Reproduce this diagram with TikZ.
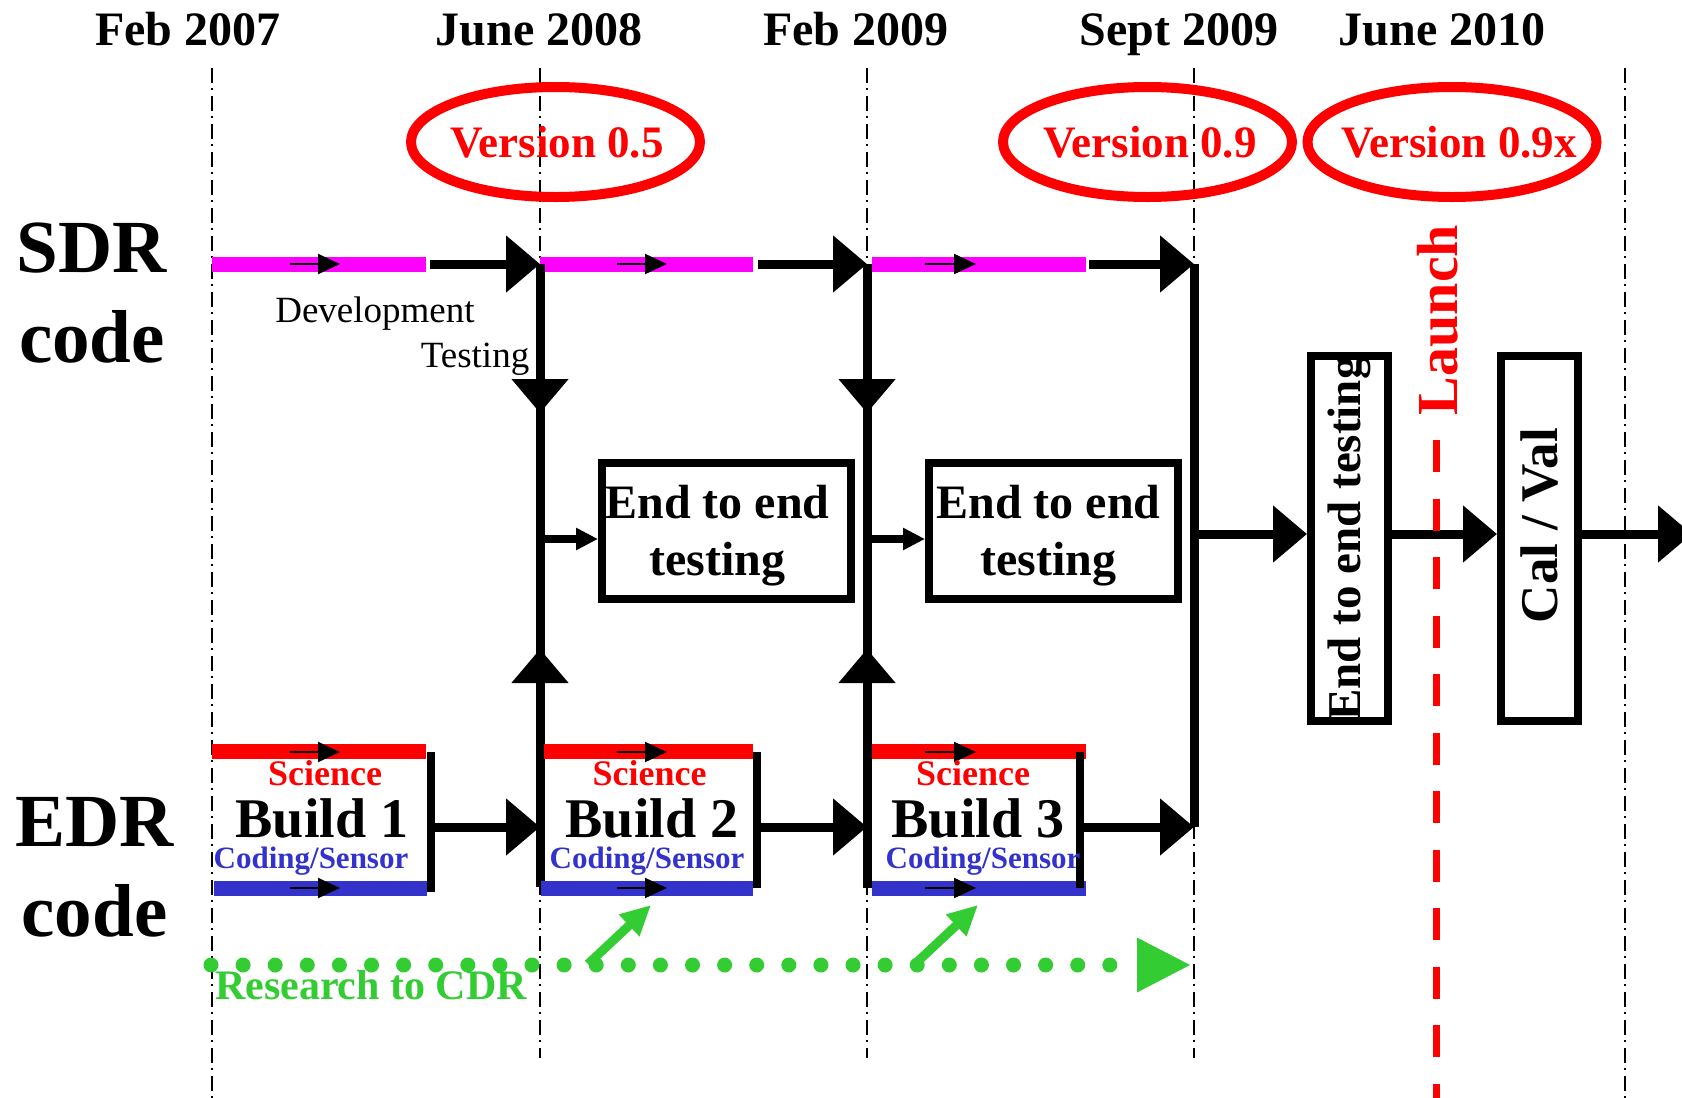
\documentclass[tikz,border=0pt]{standalone}
\usepackage{fontspec}
\setmainfont{Liberation Serif}
\usetikzlibrary{arrows.meta,shapes.geometric}
\definecolor{myred}{RGB}{255,0,0}
\definecolor{mymag}{RGB}{255,0,255}
\definecolor{myblue}{RGB}{51,51,204}
\definecolor{mygreen}{RGB}{51,204,51}
\newcommand\fsz[2]{\fontsize{#1pt}{#2pt}\selectfont}
\tikzset{
  gridline/.style={line width=2pt, dash pattern=on 15pt off 5pt on 2pt off 6pt},
  flow/.style={line width=9pt},
  bigtip/.style={-{Triangle[length=34pt,width=55pt]}},
  thin arrow/.style={line width=2pt, -{Triangle[length=22pt,width=20pt]}},
  med arrow/.style={line width=8pt, -{Triangle[length=22pt,width=21pt]}},
  magbar/.style={line width=15pt, mymag},
  redbar/.style={line width=15pt, myred},
  bluebar/.style={line width=15pt, myblue},
  bracket/.style={line width=8pt},
  date/.style={anchor=base, inner sep=0pt, font=\fsz{48}{58}\bfseries},
  ver/.style={draw=myred, line width=10pt, ellipse, minimum width=289pt, minimum height=110pt, inner sep=0pt, text=myred, font=\fsz{45}{54}\bfseries},
  side/.style={align=center, inner sep=0pt, font=\fsz{75}{90}\bfseries},
  small/.style={anchor=base, inner sep=0pt, font=\fsz{37}{44}},
  ebox/.style={draw, line width=8pt, minimum width=249pt, minimum height=136pt, inner sep=0pt, align=center, font=\fsz{48}{57}\bfseries},
  vbox/.style={draw, line width=8pt, rotate=90, minimum width=365pt, minimum height=77pt, inner sep=0pt},
  sci/.style={anchor=base, inner sep=0pt, text=myred, font=\fsz{36}{43}\bfseries},
  bld/.style={anchor=base, inner sep=0pt, font=\fsz{56}{67}\bfseries},
  cod/.style={anchor=base, inner sep=0pt, text=myblue, font=\fsz{31}{37}\bfseries},
  dots/.style={mygreen, line width=15pt, line cap=round, dash pattern=on 0pt off 32.1pt, -{Triangle[length=53pt,width=55pt,line width=0pt]}},
  garrow/.style={mygreen, line width=9pt, -{Triangle[length=30pt,width=28pt]}},
  launchline/.style={myred, line width=7pt, dash pattern=on 32pt off 26.5pt}
}
\begin{document}
\begin{tikzpicture}[x=1pt,y=-1pt]
\useasboundingbox (0,0) rectangle (1682,1098);
\clip (0,0) rectangle (1682,1098);
\fill[white] (0,0) rectangle (1682,1098);

% time grid
\foreach \x/\e in {212/1098, 540/1058, 867/1058, 1194/1058, 1625/1098}
  \draw[gridline] (\x,68) -- (\x,\e);

% dates
\node[date] (d1) at (188,45) {Feb 2007};
\node[date] (d2) at (539,45) {June 2008};
\node[date] (d3) at (856,45) {Feb 2009};
\node[date] (d4) at (1179,45) {Sept 2009};
\node[date] (d5) at (1442,45) {June 2010};

% versions
\node[ver] (v05) at (555.5,142) {\makebox[0pt]{\hspace*{3pt}Version 0.5}};
\node[ver] (v09) at (1147.5,142) {\makebox[0pt]{\hspace*{5pt}Version 0.9}};
\node[ver] (v09x) at (1452,142) {\makebox[0pt]{\hspace*{14pt}Version 0.9x}};

% row labels
\node[side] (sdr) at (92,293.5) {SDR\\code};
\node[side] (edr) at (94.5,867.5) {EDR\\code};

% junction coordinates
\coordinate (s1) at (540,264);
\coordinate (s2) at (867,264);
\coordinate (s3) at (1194,264);
\coordinate (b1) at (540,887);
\coordinate (b2) at (867,888);
\coordinate (e3) at (1194,827);
\coordinate (dn1) at (540,413);
\coordinate (dn2) at (867,413);
\coordinate (up1) at (540,649);
\coordinate (up2) at (867,649);

% SDR development bars
\draw[magbar] (212,264) -- (426,264);
\draw[magbar] (540,264) -- (753,264);
\draw[magbar] (872,264) -- (1086,264);
\draw[thin arrow] (290,264) -- (340,264);
\draw[thin arrow] (617,264) -- (667,264);
\draw[thin arrow] (925,264) -- (976,264);
\draw[flow,bigtip] (430,264) -- (s1);
\draw[flow,bigtip] (758,264) -- (s2);
\draw[flow,bigtip] (1089,264) -- (s3);

\node[small] (dev) at (375,322) {Development};
\node[small] (tst) at (475,367) {Testing};

% vertical trunks
\draw[flow] (s1) -- (b1);
\draw[flow] (s2) -- (b2);
\draw[flow] (s3) -- (e3);
\draw[flow,bigtip] (s1) -- (dn1);
\draw[flow,bigtip] (s2) -- (dn2);
\draw[flow,bigtip] (b1) -- (up1);
\draw[flow,bigtip] (b2) -- (up2);

% end to end boxes
\node[ebox] (ee1) at (726.5,531) {\rule{0pt}{42pt}End to end\hspace*{18pt}\\testing\hspace*{18pt}};
\node[ebox] (ee2) at (1053.5,531) {\rule{0pt}{42pt}End to end\hspace*{10pt}\\testing\hspace*{10pt}};
\coordinate (h1) at (540,539);
\coordinate (h2) at (867,539);
\draw[med arrow] (h1) -- (ee1.west |- h1);
\draw[med arrow] (h2) -- (ee2.west |- h2);

% final stages
\node[vbox, font=\fsz{47}{56}\bfseries] (vb1) at (1349.5,538.5) {End to end testing};
\node[vbox, font=\fsz{53}{63}\bfseries] (cv) at (1539.5,538.5) {\hspace*{26pt}Cal / Val};
\coordinate (h3) at (1199,534);
\coordinate (hend) at (1692,534);
\draw[flow,bigtip] (h3) -- (vb1.north |- h3);
\draw[flow,bigtip] (vb1.south |- h3) -- (cv.north |- h3);
\draw[flow,bigtip] (cv.south |- h3) -- (hend);

% launch
\draw[launchline] (1436,440) -- (1436,1098);
\node[rotate=90, anchor=base, inner sep=0pt, text=myred, font=\fsz{58}{70}\bfseries] (launch) at (1457,320) {Launch};

% EDR builds
\draw[redbar] (212,751) -- (426,751);
\draw[redbar] (544,751) -- (753,751);
\draw[redbar] (872,751) -- (1086,751);
\draw[bluebar] (214,888) -- (427,888);
\draw[bluebar] (541,888) -- (753,888);
\draw[bluebar] (872,888) -- (1086,888);
\draw[thin arrow] (290,752) -- (340,752);
\draw[thin arrow] (617,752) -- (667,752);
\draw[thin arrow] (925,752) -- (976,752);
\draw[thin arrow] (290,888) -- (340,888);
\draw[thin arrow] (617,888) -- (667,888);
\draw[thin arrow] (925,888) -- (976,888);

\coordinate (k1t) at (431,752); \coordinate (k1b) at (431,892);
\coordinate (k2t) at (757,752); \coordinate (k2b) at (757,888);
\coordinate (k3t) at (1080,752); \coordinate (k3b) at (1080,888);
\draw[bracket] (k1t) -- (k1b);
\draw[bracket] (k2t) -- (k2b);
\draw[bracket] (k3t) -- (k3b);
\coordinate (o1) at (431,827); \coordinate (o2) at (757,827); \coordinate (o3) at (1080,827);
\draw[flow,bigtip] (o1) -- (b1 |- o1);
\draw[flow,bigtip] (o2) -- (b2 |- o2);
\draw[flow,bigtip] (o3) -- (e3);

\node[sci] (sc1) at (325,785) {Science};
\node[sci] (sc2) at (649.5,785) {Science};
\node[sci] (sc3) at (973,785) {Science};
\node[bld] (bd1) at (322,837) {Build 1};
\node[bld] (bd2) at (652,837) {Build 2};
\node[bld] (bd3) at (978,837) {Build 3};
\node[cod] (cd1) at (311,868) {Coding/Sensor};
\node[cod] (cd2) at (647,868) {Coding/Sensor};
\node[cod] (cd3) at (983,868) {Coding/Sensor};

% research to CDR
\coordinate (r0) at (211,965);
\coordinate (r1) at (1190,965);
\draw[dots] (r0) -- (r1);
\node[anchor=base, inner sep=0pt, text=mygreen, font=\fsz{42}{50}\bfseries] (rcdr) at (371,999) {Research to CDR};
\coordinate (g1a) at (588,964); \coordinate (g1b) at (651,905);
\coordinate (g2a) at (915,964); \coordinate (g2b) at (978,905);
\draw[garrow] (g1a) -- (g1b);
\draw[garrow] (g2a) -- (g2b);
\end{tikzpicture}
\end{document}
